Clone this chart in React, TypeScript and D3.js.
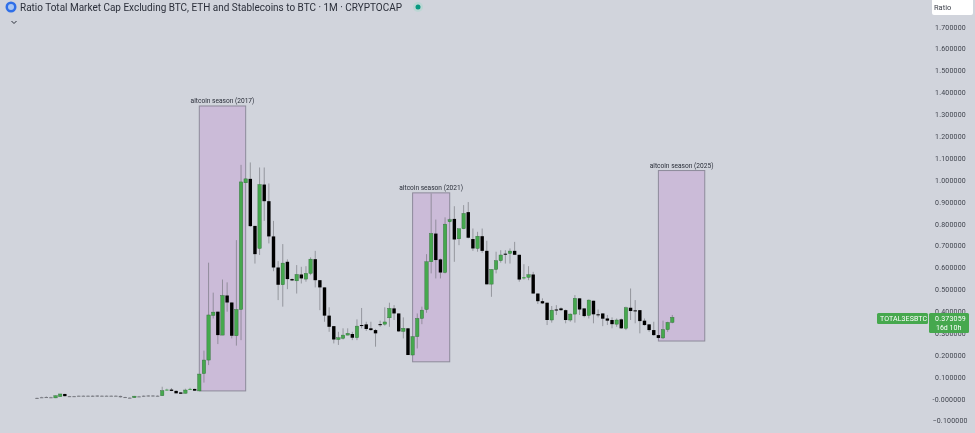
import React from "react";
import * as d3 from "d3";

const opens = [.004,.008,.009,.008,.005,.011,.023,.013,.013,.014,.015,.015,.015,.011,.015,.015,.015,.015,.014,.009,.006,.006,.012,.011,.012,.012,.015,.015,.042,.043,.037,.030,.026,.045,.046,.037,
.116,.178,.382,.399,.292,.473,.441,.289,.409,.988,1.006,.791,.688,.980,.904,.743,.601,.522,.627,.548,.540,
.569,.548,.574,.639,.543,.510,.381,.333,.272,.277,.292,.297,.280,.338,.341,.323,.315,.342,.342,.371,.414,.391,.309,.323,
.201,.285,.368,.409,.627,.756,.638,.578,.810,.823,.732,.778,.854,.731,.688,.744,.677,.525,.592,.632,.664,.665,.677,.659,.551,.556,
.569,.482,.447,.440,.361,.409,.414,.406,.361,.388,.460,.414,.382,.449,.387,.391,.368,.361,.342,.364,.323,
.417,.405,.406,.358,.341,.315,.292,.279,.317,.350];
const highs = [.006,.010,.012,.010,.016,.023,.024,.014,.014,.015,.016,.016,.016,.016,.016,.016,.016,.016,.015,.010,.007,.014,.014,.016,.017,.017,.016,.056,.047,.050,.039,.031,.047,.051,.047,.114,
.221,.623,.486,.399,.546,.533,.441,.726,1.070,1.006,1.081,.791,1.058,1.058,.985,.814,.630,.708,.638,.551,.612,
.604,.607,.647,.677,.543,.510,.419,.333,.307,.323,.323,.307,.364,.416,.353,.353,.320,.358,.419,.440,.429,.391,.373,.323,
.285,.391,.422,.662,.939,.820,.642,.830,.825,.881,.778,.886,.900,.779,.764,.779,.723,.592,.673,.680,.680,.688,.718,.659,.616,.607,
.581,.482,.460,.440,.425,.429,.419,.409,.391,.475,.460,.414,.455,.449,.409,.391,.384,.373,.368,.368,.422,
.505,.452,.406,.368,.341,.353,.292,.358,.353,.384];
const lows = [.003,.006,.007,.007,.004,.010,.012,.012,.012,.013,.014,.014,.010,.010,.014,.014,.014,.014,.007,.007,.004,.005,.011,.010,.011,.011,.012,.014,.038,.036,.026,.024,.025,.042,.038,.037,
.075,.155,.368,.251,.292,.399,.277,.244,.269,.988,.787,.619,.658,.814,.711,.584,.452,.422,.502,.539,.482,
.528,.536,.566,.510,.406,.353,.307,.254,.247,.272,.291,.269,.269,.323,.311,.312,.239,.330,.335,.330,.361,.307,.277,.201,
.201,.231,.342,.394,.574,.551,.551,.574,.807,.627,.703,.776,.734,.677,.673,.668,.524,.467,.574,.623,.619,.619,.659,.536,.546,.543,
.482,.434,.434,.338,.349,.384,.403,.346,.353,.349,.384,.373,.368,.346,.373,.333,.338,.323,.330,.320,.315,
.361,.346,.300,.335,.307,.289,.277,.274,.307,.346];
const closes = [.005,.008,.009,.008,.015,.023,.013,.013,.013,.015,.015,.015,.011,.016,.015,.015,.015,.015,.008,.009,.006,.013,.012,.015,.016,.016,.015,.038,.043,.037,.026,.024,.041,.046,.038,.114,
.178,.384,.397,.292,.473,.441,.289,.409,.992,1.006,.790,.662,.980,.904,.743,.601,.522,.621,.548,.542,.569,
.551,.574,.639,.543,.510,.381,.330,.272,.280,.292,.300,.280,.333,.336,.320,.315,.300,.341,.352,.414,.391,.309,.323,.201,
.285,.368,.406,.627,.756,.635,.578,.799,.819,.729,.778,.848,.737,.688,.744,.677,.524,.592,.632,.658,.662,.676,.659,.546,.557,.568,
.482,.447,.437,.361,.406,.408,.406,.361,.388,.460,.409,.379,.452,.387,.385,.367,.358,.342,.361,.323,.417,
.402,.403,.356,.338,.315,.292,.279,.317,.350,.373];

const priceTicks = [1.7,1.6,1.5,1.4,1.3,1.2,1.1,1.0,.9,.8,.7,.6,.5,.4,.3,.2,.1,0,-.1];
const tickFormat = d3.format(".6f");

const seasonLabels = ["altcoin season (2017)", "altcoin season (2021)", "altcoin season (2025)"];
const seasonStart = [35, 81, 134];
const seasonEnd = [45, 89, 144];
const seasonTop = [1.339, .942, 1.044];
const seasonBottom = [.037, .170, .265];

const titleText = "Ratio Total Market Cap Excluding BTC, ETH and Stablecoins to BTC · 1M · CRYPTOCAP";
const symbolName = "TOTAL3ESBTC";
const lastValue = "0.373059";
const countdown = "16d 10h";

const UP = "#46a84e";
const DOWN = "#000000";
const FONT = "Roboto, 'Noto Sans', sans-serif";

export default function App() {
  const x = d3.scaleLinear().domain([0, 137]).range([37, 672.3]);
  const y = d3.scaleLinear().domain([0, 1.7]).range([399, 27]);
  const bodyWidth = 3.4;
  const idx = d3.range(opens.length);

  return (
    <svg
      width={975}
      height={433}
      viewBox="0 0 975 433"
      style={{ position: "absolute", left: 0, top: 0, display: "block", filter: "blur(0.3px)" }}
      fontFamily={FONT}
    >
      <rect width={975} height={433} fill="#d1d4dc" />

      {seasonLabels.map((label, i) => (
        <g key={label}>
          <rect
            x={x(seasonStart[i])}
            y={y(seasonTop[i])}
            width={x(seasonEnd[i]) - x(seasonStart[i])}
            height={y(seasonBottom[i]) - y(seasonTop[i])}
            fill="#cbbbd8"
            stroke="#8d8a9a"
            strokeWidth={1}
          />
          <text
            x={(x(seasonStart[i]) + x(seasonEnd[i])) / 2}
            y={y(seasonTop[i]) - 3}
            textAnchor="middle"
            fontSize={6.6}
            fill="#2a2e39"
          >
            {label}
          </text>
        </g>
      ))}

      {idx.map((i) => (
        <line
          key={"w" + i}
          x1={x(i)}
          x2={x(i)}
          y1={y(highs[i])}
          y2={y(lows[i])}
          stroke="#6f7178"
          strokeOpacity={0.62}
          strokeWidth={1}
        />
      ))}
      {idx.map((i) => {
        const up = closes[i] >= opens[i];
        const top = y(Math.max(opens[i], closes[i]));
        const bottom = y(Math.min(opens[i], closes[i]));
        return (
          <rect
            key={"b" + i}
            x={x(i) - bodyWidth / 2}
            y={top}
            width={bodyWidth}
            height={Math.max(bottom - top, 1)}
            fill={i < 27 && bottom - top < 1.5 ? "#74767d" : up ? UP : DOWN}
            stroke={up && bottom - top >= 1.5 ? "#2f6a38" : "none"}
            strokeWidth={0.4}
          />
        );
      })}

      {priceTicks.map((t) => (
        <text key={t} x={t <= 0 ? 932.5 : 935} y={y(t) + 2.6} fontSize={7} letterSpacing={0.2} fill="#3f434d">
          {t === 0 ? "-" + tickFormat(0) : tickFormat(t)}
        </text>
      ))}

      <rect x={932} y={-3} width={41} height={18} rx={2} fill="#ffffff" />
      <text x={934} y={10} fontSize={7.5} fill="#3a3e48">Ratio</text>

      <circle cx={11} cy={7} r={5.5} fill="#2f6fe8" />
      <circle cx={11} cy={7} r={3} fill="#a9c6f3" />
      <text x={20} y={11} fontSize={10.6} textLength={382} lengthAdjust="spacingAndGlyphs" fill="#2a2e39">{titleText}</text>
      <circle cx={418} cy={7} r={5} fill="#bcd6d4" />
      <circle cx={418} cy={7} r={2.5} fill="#089981" />
      <path d="M11.5 21 L14 23.5 L16.5 21" fill="none" stroke="#2a2e39" strokeWidth={1} />

      <rect x={877} y={313} width={51} height={11} rx={1.5} fill={UP} />
      <text x={880} y={321} fontSize={7} letterSpacing={0.1} fill="#ffffff">{symbolName}</text>
      <rect x={929} y={313} width={40} height={20} rx={1.5} fill={UP} />
      <text x={935} y={320.8} fontSize={7} letterSpacing={0.2} fill="#ffffff">{lastValue}</text>
      <text x={936} y={330} fontSize={7} fill="#ffffff">{countdown}</text>
    </svg>
  );
}
